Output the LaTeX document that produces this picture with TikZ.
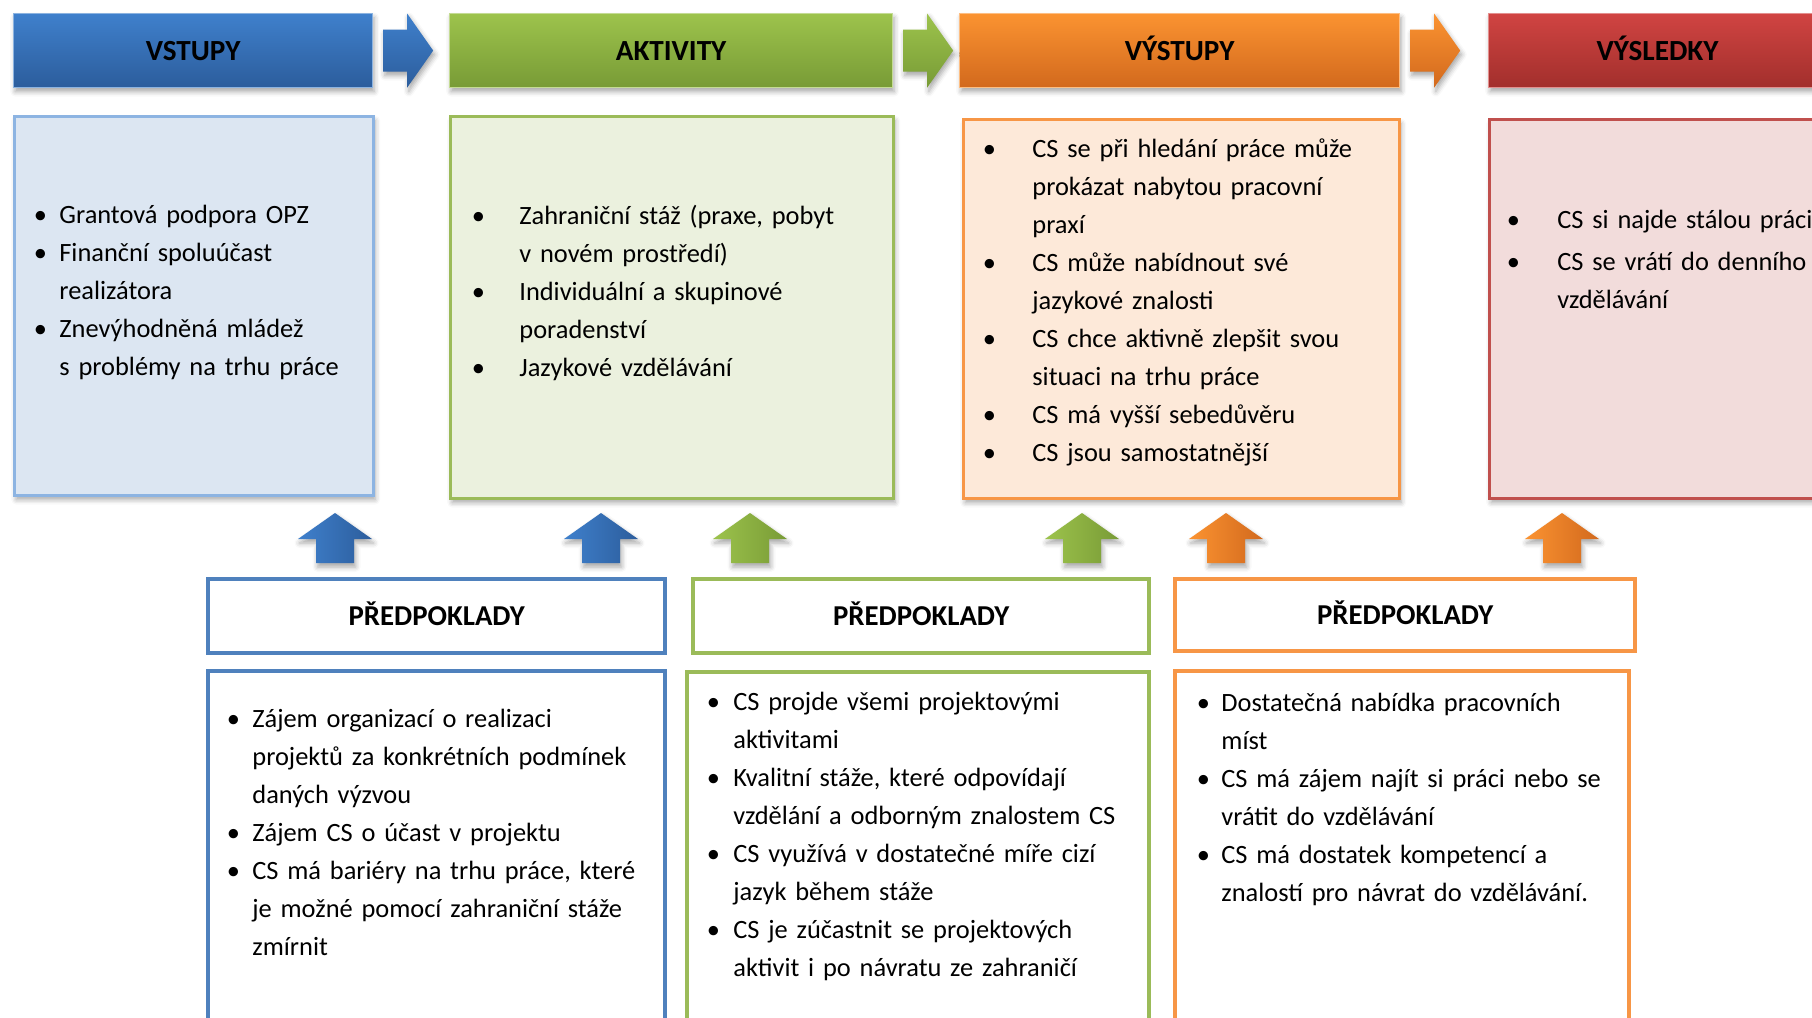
\documentclass[tikz,border=0pt]{standalone}
\usepackage{fontspec}
\setmainfont{Carlito}
\usetikzlibrary{shadows.blur}

\definecolor{blTop}{HTML}{3F80CC}
\definecolor{blBot}{HTML}{2C5D9C}
\definecolor{blFill}{HTML}{DCE6F2}
\definecolor{blEdge}{HTML}{8DB4E2}
\definecolor{blLine}{HTML}{4F81BD}
\definecolor{grTop}{HTML}{9DC34C}
\definecolor{grBot}{HTML}{789B36}
\definecolor{grFill}{HTML}{EBF1DE}
\definecolor{grLine}{HTML}{9BBB59}
\definecolor{orTop}{HTML}{FB9331}
\definecolor{orBot}{HTML}{D2691D}
\definecolor{orFill}{HTML}{FDE9D9}
\definecolor{orLine}{HTML}{F79646}
\definecolor{rdTop}{HTML}{D04442}
\definecolor{rdBot}{HTML}{A22F2C}
\definecolor{rdFill}{HTML}{F2DCDB}
\definecolor{rdLine}{HTML}{C0504D}

\tikzstyle{softshadow}=[blur shadow={shadow xshift=0.8pt, shadow yshift=-2pt, shadow blur radius=2.5pt, shadow opacity=35}]
\tikzstyle{headbar}=[rectangle, anchor=north west, line width=0.6pt, minimum height=37pt, font=\fontsize{14.6}{16}\selectfont\bfseries, text height=9.4pt, text depth=0pt, softshadow]
\tikzstyle{panel}=[rectangle, anchor=north west, line width=1.6pt, minimum height=189.5pt, softshadow]
\tikzstyle{asmhead}=[rectangle, anchor=north west, fill=white, line width=2.2pt, minimum height=37pt, font=\fontsize{14.4}{16}\selectfont\bfseries, text height=9.3pt, text depth=0pt]
\tikzstyle{asmbox}=[rectangle, anchor=north west, fill=white, line width=2.2pt, minimum height=190pt]
\tikzstyle{items}=[anchor=base west, inner sep=0pt, align=left, text width=230pt, font=\fontsize{13.2}{19}\selectfont]
\tikzstyle{blockarrow}=[softshadow]

% bullet hung into the left margin, #1 = bullet centre to text
\newcommand\bul[1][9.5pt]{\leavevmode\llap{\makebox[0pt]{\textbullet}\hspace{#1}}}

\begin{document}
\begin{tikzpicture}[x=0.5pt, y=-0.5pt]
    \useasboundingbox (0,0) rectangle (1812,1018);
    \clip (0,0) rectangle (1812,1018);

    % top row
    \node[headbar, minimum width=179.5pt, top color=blTop, bottom color=blBot, draw=blTop!60!white] (vstupy) at (13,13) {VSTUPY};
    \node[headbar, minimum width=221.5pt, top color=grTop, bottom color=grBot, draw=grTop!60!white] (aktivity) at (449,13) {AKTIVITY};
    \node[headbar, minimum width=220pt, top color=orTop, bottom color=orBot, draw=orTop!60!white] (vystupy) at (959,13) {VÝSTUPY};
    \node[headbar, minimum width=169pt, top color=rdTop, bottom color=rdBot, draw=rdTop!60!white] (vysledky) at (1488,13) {VÝSLEDKY};

    \foreach \n/\ca/\cb in {vstupy/blTop/blBot, aktivity/grTop/grBot, vystupy/orTop/orBot}
        \path[blockarrow, top color=\ca, bottom color=\cb]
            ([shift={(10,-21)}]\n.east) -- ++(24,0) -- ++(0,-16) -- ++(26,37)
            -- ++(-26,37) -- ++(0,-16) -- ++(-24,0) -- cycle;

    % panels under the bars
    \node[panel, minimum width=179.5pt, fill=blFill, draw=blEdge] (inbox) at (13,115) {};
    \node[panel, minimum width=221.5pt, minimum height=191pt, fill=grFill, draw=grLine] (actbox) at (449,115) {};
    \node[panel, minimum width=218pt, fill=orFill, draw=orLine] (outbox) at (962,118) {};
    \node[panel, minimum width=169pt, fill=rdFill, draw=rdLine] (resbox) at (1488,118) {};

    \node[items] (inlist) at (59,223) {\bul Grantová podpora OPZ\\
        \bul Finanční spoluúčast\\ realizátora\\
        \bul Znevýhodněná mládež\\ s problémy na trhu práce};
    \node[items] (actlist) at (519,224) {\bul[20.5pt]Zahraniční stáž (praxe, pobyt\\ v novém prostředí)\\
        \bul[20.5pt]Individuální a skupinové\\ poradenství\\
        \bul[20.5pt]Jazykové vzdělávání};
    \node[items] (outlist) at (1032,157) {\bul[21.5pt]CS se při hledání práce může\\ prokázat nabytou pracovní\\ praxí\\
        \bul[21.5pt]CS může nabídnout své\\ jazykové znalosti\\
        \bul[21.5pt]CS chce aktivně zlepšit svou\\ situaci na trhu práce\\
        \bul[21.5pt]CS má vyšší sebedůvěru\\
        \bul[21.5pt]CS jsou samostatnější};
    \node[items, text width=140pt] (reslist) at (1557,228) {\bul[22pt]CS si najde stálou práci\\[2.3pt]
        \bul[22pt]CS se vrátí do denního\\ vzdělávání};

    % assumptions
    \node[asmhead, minimum width=228.5pt, draw=blLine] (asmA) at (206,577) {PŘEDPOKLADY};
    \node[asmhead, minimum width=228pt, draw=grLine] (asmB) at (691,577) {PŘEDPOKLADY};
    \node[asmhead, minimum width=230pt, minimum height=36pt, draw=orLine] (asmC) at (1173,577) {PŘEDPOKLADY};

    \node[asmbox, minimum width=228.5pt, draw=blLine] (asmAbox) at (206,669) {};
    \node[asmbox, minimum width=231pt, draw=grLine] (asmBbox) at (685,670) {};
    \node[asmbox, minimum width=227pt, draw=orLine] (asmCbox) at (1173,669) {};

    \node[items] (asmAlist) at (252,727) {\bul Zájem organizací o realizaci\\ projektů za konkrétních podmínek\\ daných výzvou\\
        \bul Zájem CS o účast v projektu\\
        \bul CS má bariéry na trhu práce, které\\ je možné pomocí zahraniční stáže\\ zmírnit};
    \node[items] (asmBlist) at (733,710) {\bul[10pt]CS projde všemi projektovými\\ aktivitami\\
        \bul[10pt]Kvalitní stáže, které odpovídají\\ vzdělání a odborným znalostem CS\\
        \bul[10pt]CS využívá v dostatečné míře cizí\\ jazyk během stáže\\
        \bul[10pt]CS je zúčastnit se projektových\\ aktivit i po návratu ze zahraničí};
    \node[items] (asmClist) at (1221,711) {\bul[9pt]Dostatečná nabídka pracovních\\ míst\\
        \bul[9pt]CS má zájem najít si práci nebo se\\ vrátit do vzdělávání\\
        \bul[9pt]CS má dostatek kompetencí a\\ znalostí pro návrat do vzdělávání.};

    % block arrows pointing up
    \foreach \ax/\ca/\cb in {335/blTop/blBot, 601/blTop/blBot, 750/grTop/grBot, 1082/grTop/grBot, 1226/orTop/orBot, 1562/orTop/orBot}
        \path[blockarrow, left color=\ca, right color=\cb]
            (\ax,513) -- ({\ax+37},539) -- ({\ax+19},539) -- ({\ax+19},563)
            -- ({\ax-19},563) -- ({\ax-19},539) -- ({\ax-37},539) -- cycle;
\end{tikzpicture}
\end{document}
